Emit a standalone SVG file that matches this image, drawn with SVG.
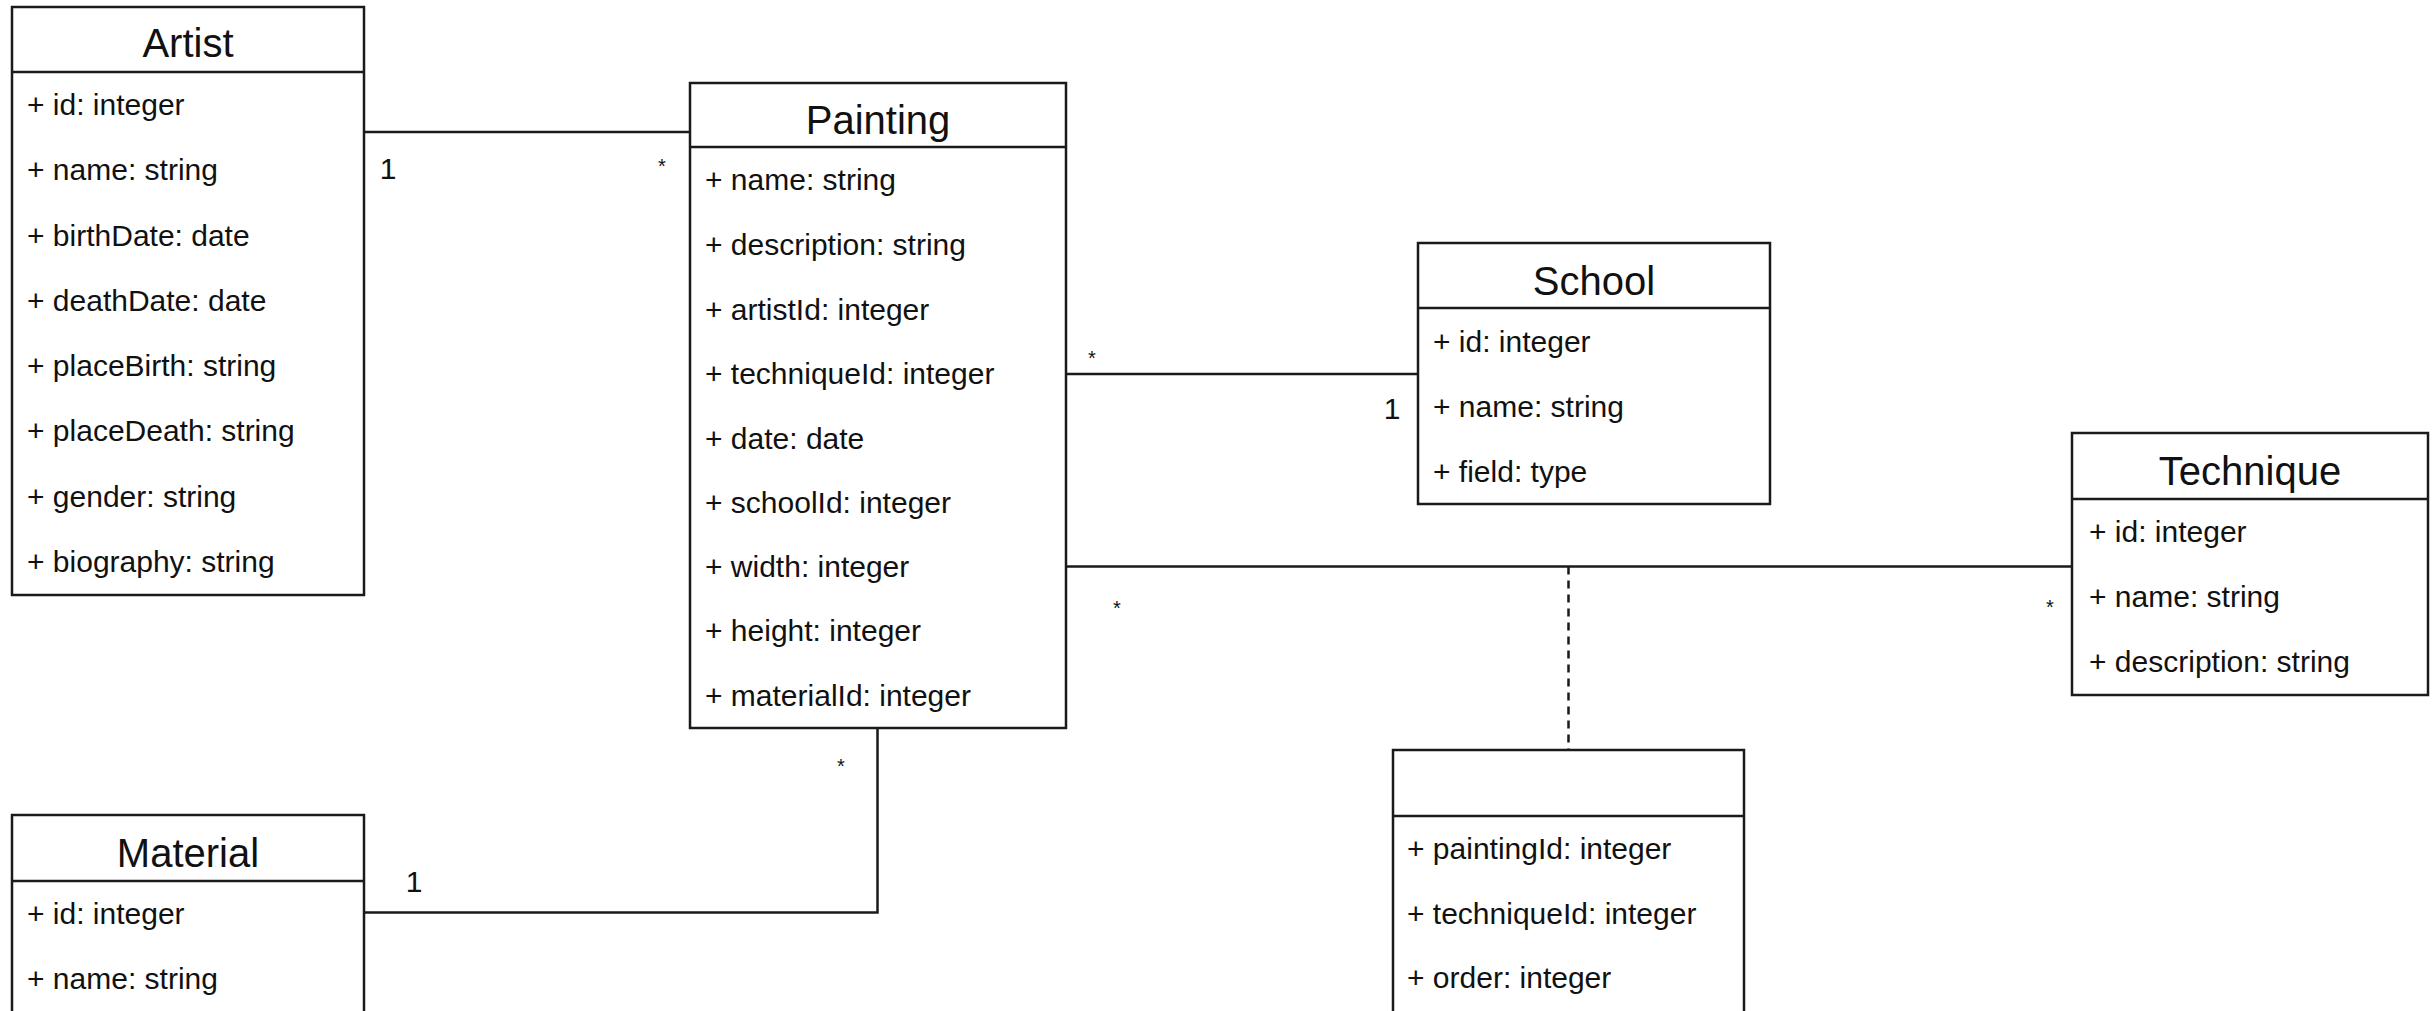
<svg xmlns="http://www.w3.org/2000/svg" width="2433" height="1011" viewBox="0 0 2433 1011">
<style>
.box{fill:#fff;stroke:#1a1a1a;stroke-width:2.5}
.sep{stroke:#1a1a1a;stroke-width:2.5}
.title{font-family:"Liberation Sans",Arial,Helvetica,sans-serif;font-size:40px;fill:#111;text-anchor:middle}
.attr{font-family:"Liberation Sans",Arial,Helvetica,sans-serif;font-size:30px;fill:#111}
.lbl{font-family:"Liberation Sans",Arial,Helvetica,sans-serif;font-size:30px;fill:#111;text-anchor:middle}
.star{font-family:"Liberation Sans",Arial,Helvetica,sans-serif;font-size:20px;fill:#111;text-anchor:middle}
.conn{fill:none;stroke:#1a1a1a;stroke-width:2.5}
.dash{fill:none;stroke:#1a1a1a;stroke-width:2.5;stroke-dasharray:8 6}
</style>
<rect width="2433" height="1011" fill="#fff"/>
<g id="connectors">
<path class="conn" d="M364 132 H690"/>
<path class="conn" d="M1066 374 H1418"/>
<path class="conn" d="M1066 566.5 H2072"/>
<path class="conn" d="M364 912.5 H877.5 V728"/>
<path class="dash" d="M1568.5 566.5 V750"/>
<text class="lbl" x="388" y="179">1</text>
<text class="star" x="662" y="173">*</text>
<text class="star" x="1092" y="365">*</text>
<text class="lbl" x="1392" y="419">1</text>
<text class="star" x="1117" y="615">*</text>
<text class="star" x="2050" y="614">*</text>
<text class="lbl" x="414" y="892">1</text>
<text class="star" x="841" y="773">*</text>
</g>
<g id="artist">
<rect class="box" x="12" y="7" width="352" height="588"/>
<line class="sep" x1="12" y1="72" x2="364" y2="72"/>
<text class="title" x="188" y="57">Artist</text>
<text class="attr" x="27" y="115">+ id: integer</text>
<text class="attr" x="27" y="180">+ name: string</text>
<text class="attr" x="27" y="246">+ birthDate: date</text>
<text class="attr" x="27" y="311">+ deathDate: date</text>
<text class="attr" x="27" y="376">+ placeBirth: string</text>
<text class="attr" x="27" y="441">+ placeDeath: string</text>
<text class="attr" x="27" y="507">+ gender: string</text>
<text class="attr" x="27" y="572">+ biography: string</text>
</g>
<g id="painting">
<rect class="box" x="690" y="83" width="376" height="645"/>
<line class="sep" x1="690" y1="147" x2="1066" y2="147"/>
<text class="title" x="878" y="134">Painting</text>
<text class="attr" x="705" y="190">+ name: string</text>
<text class="attr" x="705" y="255">+ description: string</text>
<text class="attr" x="705" y="320">+ artistId: integer</text>
<text class="attr" x="705" y="384">+ techniqueId: integer</text>
<text class="attr" x="705" y="449">+ date: date</text>
<text class="attr" x="705" y="513">+ schoolId: integer</text>
<text class="attr" x="705" y="577">+ width: integer</text>
<text class="attr" x="705" y="641">+ height: integer</text>
<text class="attr" x="705" y="706">+ materialId: integer</text>
</g>
<g id="school">
<rect class="box" x="1418" y="243" width="352" height="261"/>
<line class="sep" x1="1418" y1="308" x2="1770" y2="308"/>
<text class="title" x="1594" y="295">School</text>
<text class="attr" x="1433" y="352">+ id: integer</text>
<text class="attr" x="1433" y="417">+ name: string</text>
<text class="attr" x="1433" y="482">+ field: type</text>
</g>
<g id="technique">
<rect class="box" x="2072" y="433" width="356" height="262"/>
<line class="sep" x1="2072" y1="499" x2="2428" y2="499"/>
<text class="title" x="2250" y="485">Technique</text>
<text class="attr" x="2089" y="542">+ id: integer</text>
<text class="attr" x="2089" y="607">+ name: string</text>
<text class="attr" x="2089" y="672">+ description: string</text>
</g>
<g id="material">
<rect class="box" x="12" y="815" width="352" height="240"/>
<line class="sep" x1="12" y1="881" x2="364" y2="881"/>
<text class="title" x="188" y="867">Material</text>
<text class="attr" x="27" y="924">+ id: integer</text>
<text class="attr" x="27" y="989">+ name: string</text>
</g>
<g id="painting-technique">
<rect class="box" x="1393" y="750" width="351" height="305"/>
<line class="sep" x1="1393" y1="816" x2="1744" y2="816"/>
<text class="attr" x="1407" y="859">+ paintingId: integer</text>
<text class="attr" x="1407" y="924">+ techniqueId: integer</text>
<text class="attr" x="1407" y="988">+ order: integer</text>
</g>
</svg>
